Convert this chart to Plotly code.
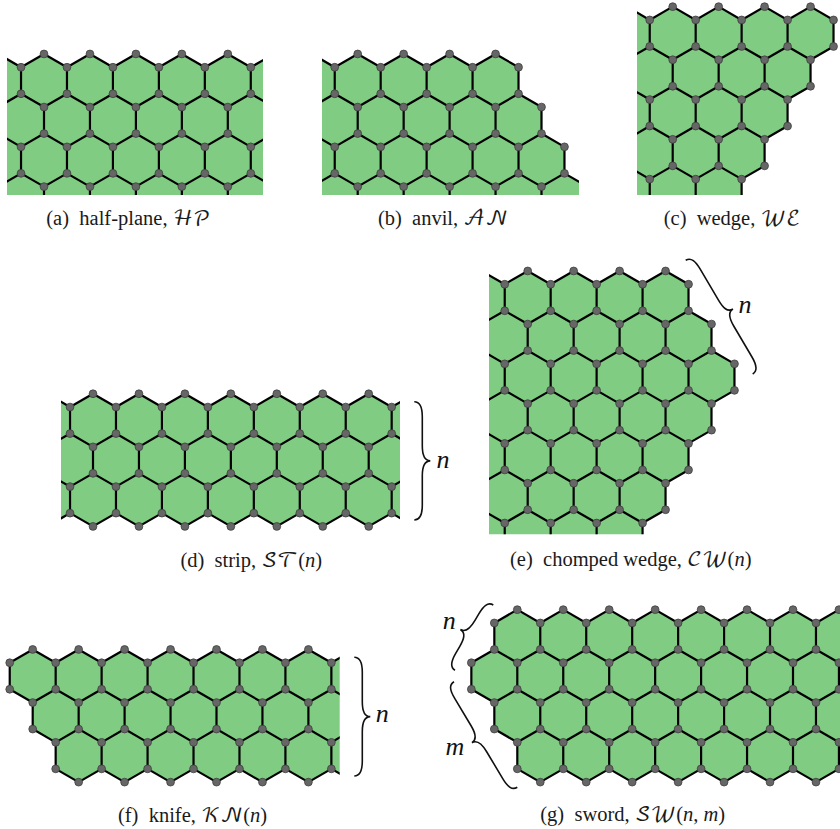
import math
import plotly.graph_objects as go

# ---- data: hexagon rows per panel, as inclusive (first, last) half-column indices ----
HALF_PLANE_ROWS = [(-2, 10), (-1, 9), (-2, 10), (-1, 9)]
ANVIL_ROWS = [(-2, 6), (-1, 7), (-2, 8), (-1, 9)]
WEDGE_ROWS = [(-2, 6), (-1, 5), (-2, 4), (-1, 3), (-2, 2)]
STRIP_ROWS = [(-2, 14), (-1, 13), (-2, 14)]
CHOMPED_ROWS = [(-2, 6), (-1, 7), (-2, 8), (-1, 7), (-2, 6), (-1, 5), (-2, 4)]
KNIFE_ROWS = [(0, 14), (1, 13), (2, 14)]
SWORD_ROWS = [(0, 16), (-1, 15), (0, 16), (1, 15)]

CAPTIONS = [
    "(a)  half-plane, ℋ𝒫",
    "(b)  anvil, 𝒜𝒩",
    "(c)  wedge, 𝒲ℰ",
    "(d)  strip, 𝒮𝒯(<i>n</i>)",
    "(e)  chomped wedge, 𝒞𝒲(<i>n</i>)",
    "(f)  knife, 𝒦𝒩(<i>n</i>)",
    "(g)  sword, 𝒮𝒲(<i>n</i>, <i>m</i>)",
]
BRACE_LABELS = ["n", "n", "n", "n", "m"]

# ---- layout (pixels of the 840x829 page) ----
W, H = 840, 829
R = 26.53
PANELS = [
    # rows, x of col 0, y of row 0, clip left, right, top, bottom
    (HALF_PLANE_ROWS, 44.0, 80.5, 7, 263, 45, 195),
    (ANVIL_ROWS, 357.7, 80.5, 322, 579, 45, 195),
    (WEDGE_ROWS, 672.7, 33.2, 637, 840, 0, 195),
    (STRIP_ROWS, 93.0, 420.3, 61, 400, 385, 532),
    (CHOMPED_ROWS, 527.7, 297.5, 489, 745, 262, 534.3),
    (KNIFE_ROWS, 32.7, 676.0, 2, 339.7, 640, 790),
    (SWORD_ROWS, 517.3, 636.2, 465, 840, 600, 790),
]
CAPTION_X = [128.3, 443, 732, 251.3, 630.8, 192.5, 632.7]
CAPTION_Y = [220, 220, 220, 561.5, 561, 816.5, 816]
LABEL_X = [443, 745, 382.3, 449.3, 455]
LABEL_Y = [461.5, 306, 715, 622, 748]
BRACES = [
    ((414.3, 401.7), (414.3, 520.0), 1),
    ((685.7, 260.3), (752.7, 374.0), 1),
    ((354.3, 657.3), (354.3, 776.0), 1),
    ((493.3, 605.0), (455.0, 670.3), -1),
    ((454.0, 681.7), (517.3, 787.3), -1),
]
GREEN = "#7fcc82"
NODE = "#666666"
NODE_EDGE = "#404040"

fig = go.Figure()
axes = {}
ROOT3 = math.sqrt(3)


def hex_corners_unit(h, r):
    cx = h * ROOT3 / 2
    cy = r * 1.5
    return [(cx + math.cos(math.radians(a)), cy + math.sin(math.radians(a)))
            for a in (-90, -30, 30, 90, 150, 210)]


for i, (rows, x0, y0, left, right, top, bottom) in enumerate(PANELS):
    suffix = "" if i == 0 else str(i + 1)
    xa = "x" + suffix
    ya = "y" + suffix
    x_lo, x_hi = (left - x0) / R, (right - x0) / R
    y_lo, y_hi = (top - y0) / R, (bottom - y0) / R
    axes["xaxis" + suffix] = dict(domain=[left / W, right / W], range=[x_lo, x_hi],
                                  visible=False, anchor=ya, fixedrange=True)
    axes["yaxis" + suffix] = dict(domain=[1 - bottom / H, 1 - top / H], range=[y_hi, y_lo],
                                  visible=False, anchor=xa, fixedrange=True)
    fx, fy, ex, ey = [], [], [], []
    edges, nodes = set(), {}
    for r, (first, last) in enumerate(rows):
        for h in range(first, last + 1, 2):
            pts = hex_corners_unit(h, r)
            fx += [p[0] for p in pts] + [pts[0][0], None]
            fy += [p[1] for p in pts] + [pts[0][1], None]
            keys = [(round(p[0], 3), round(p[1], 3)) for p in pts]
            for k, p in zip(keys, pts):
                nodes[k] = p
            for a in range(6):
                edges.add(tuple(sorted((keys[a], keys[(a + 1) % 6]))))
    for a, b in sorted(edges):
        ex += [a[0], b[0], None]
        ey += [a[1], b[1], None]
    nx, ny = [], []
    for p in nodes.values():
        if x_lo <= p[0] <= x_hi + 0.05 and y_lo <= p[1] <= y_hi:
            nx.append(p[0])
            ny.append(p[1])
    fig.add_trace(go.Scatter(x=fx, y=fy, xaxis=xa, yaxis=ya, mode="lines", fill="toself",
                             fillcolor=GREEN, line=dict(width=0, color=GREEN),
                             hoverinfo="skip", showlegend=False))
    fig.add_trace(go.Scatter(x=ex, y=ey, xaxis=xa, yaxis=ya, mode="lines",
                             line=dict(color="black", width=2.2, simplify=False),
                             hoverinfo="skip", showlegend=False))
    fig.add_trace(go.Scatter(x=nx, y=ny, xaxis=xa, yaxis=ya, mode="markers", cliponaxis=False,
                             marker=dict(size=7.8, color=NODE, line=dict(color=NODE_EDGE, width=0.8)),
                             hoverinfo="skip", showlegend=False))

# overlay axes spanning the whole page, for captions and braces
axes["xaxis8"] = dict(domain=[0, 1], range=[0, W], visible=False, anchor="y8", fixedrange=True)
axes["yaxis8"] = dict(domain=[0, 1], range=[H, 0], visible=False, anchor="x8", fixedrange=True)
fig.add_trace(go.Scatter(x=CAPTION_X, y=CAPTION_Y, xaxis="x8", yaxis="y8", mode="text",
                         text=CAPTIONS, cliponaxis=False, textposition="middle center",
                         textfont=dict(family="Liberation Serif, DejaVu Math TeX Gyre, DejaVu Sans",
                                       size=20.5, color="#1a1a1a"),
                         hoverinfo="skip", showlegend=False))
fig.add_trace(go.Scatter(x=LABEL_X, y=LABEL_Y, xaxis="x8", yaxis="y8", mode="text",
                         text=["<i>%s</i>" % t for t in BRACE_LABELS], cliponaxis=False,
                         textposition="middle center",
                         textfont=dict(family="Liberation Serif", size=26, color="#111111"),
                         hoverinfo="skip", showlegend=False))


def brace_path(p, q, side, depth=16.0, radius=15.0):
    dx, dy = q[0] - p[0], q[1] - p[1]
    length = math.hypot(dx, dy)
    ux, uy = dx / length, dy / length
    nx, ny = uy * side, -ux * side

    def pt(t, d):
        return "%.2f,%.2f" % (p[0] + ux * t + nx * d, p[1] + uy * t + ny * d)

    m = length / 2
    a = depth
    return (
        "M " + pt(0, 0)
        + " C " + pt(0, a * 0.4) + " " + pt(radius * 0.4, a * 0.5) + " " + pt(radius, a * 0.5)
        + " L " + pt(m - radius, a * 0.5)
        + " C " + pt(m - radius * 0.4, a * 0.5) + " " + pt(m, a * 0.6) + " " + pt(m, a)
        + " C " + pt(m, a * 0.6) + " " + pt(m + radius * 0.4, a * 0.5) + " " + pt(m + radius, a * 0.5)
        + " L " + pt(length - radius, a * 0.5)
        + " C " + pt(length - radius * 0.4, a * 0.5) + " " + pt(length, a * 0.4) + " " + pt(length, 0)
    )


shapes = [dict(type="path", xref="x8", yref="y8", path=brace_path(p, q, s),
               line=dict(color="#111111", width=1.6), fillcolor="rgba(0,0,0,0)")
          for p, q, s in BRACES]

fig.update_layout(width=W, height=H, margin=dict(l=0, r=0, t=0, b=0), paper_bgcolor="white",
                  plot_bgcolor="rgba(0,0,0,0)", showlegend=False, shapes=shapes, **axes)
fig.write_html("out.html", config={"displayModeBar": False},
               post_script="document.body.style.margin='0';")
